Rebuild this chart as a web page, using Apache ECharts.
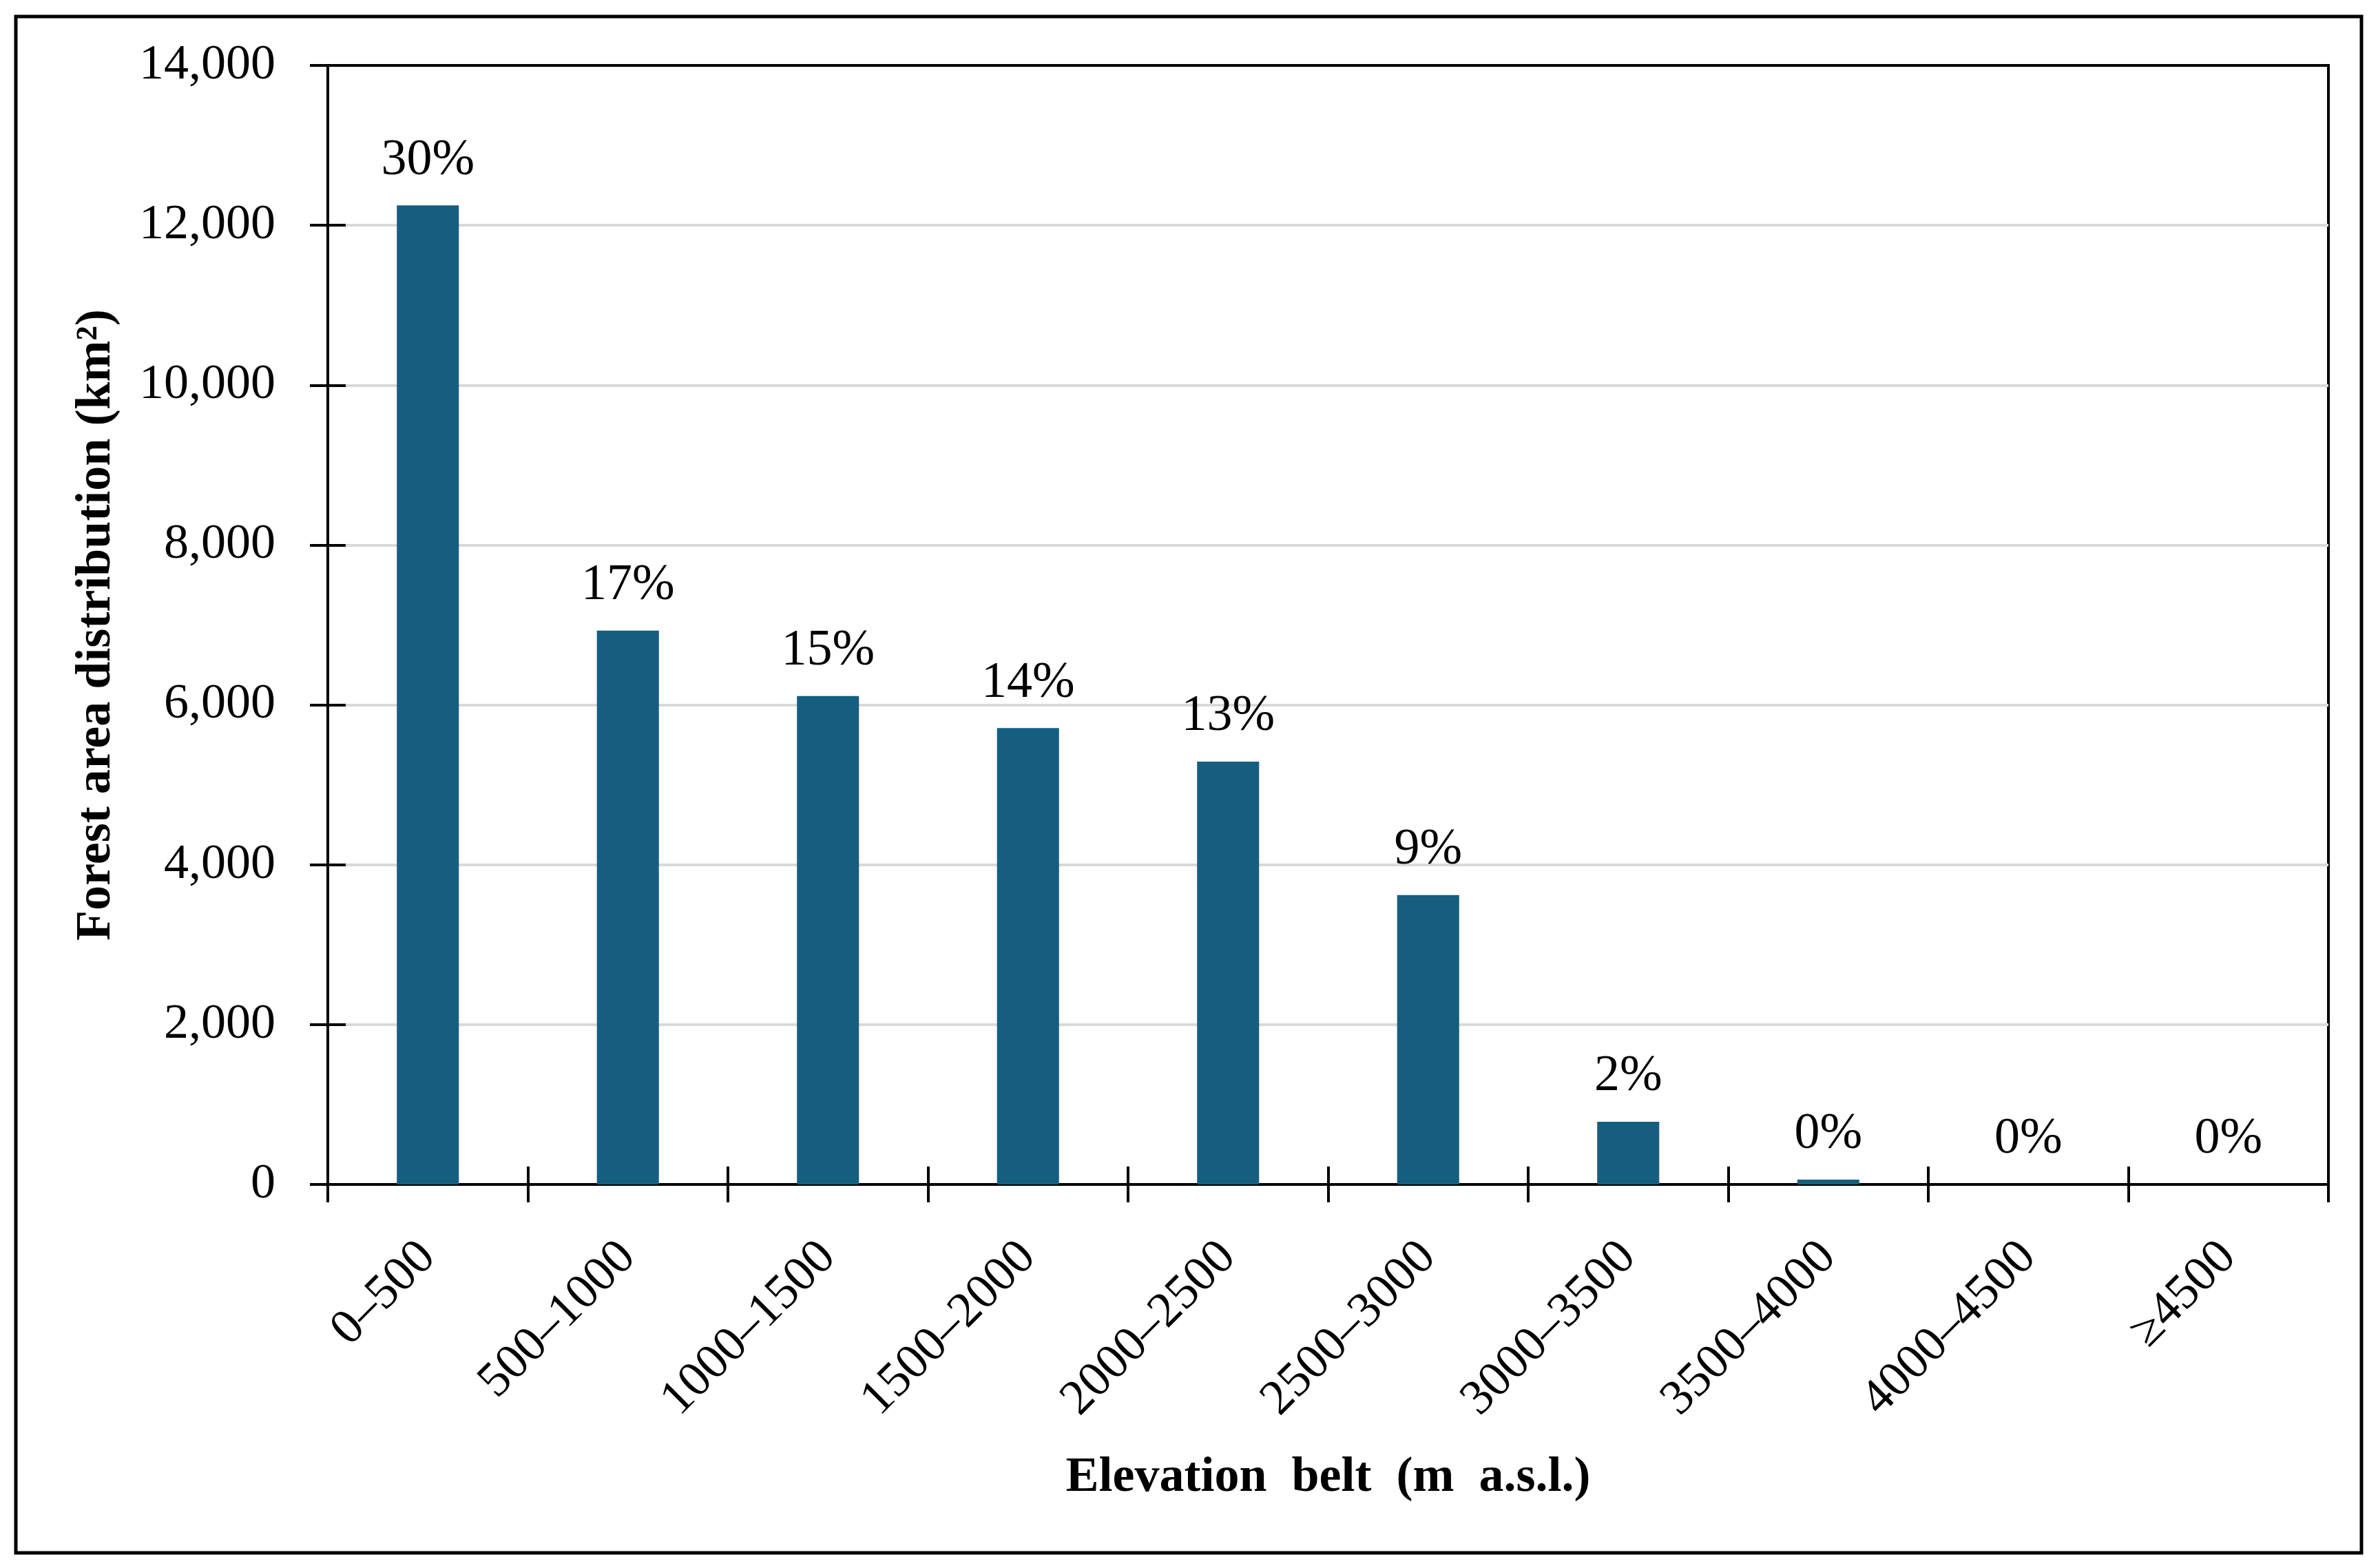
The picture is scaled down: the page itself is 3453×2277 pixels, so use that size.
<!DOCTYPE html>
<html>
<head>
<meta charset="utf-8">
<script src="https://cdn.jsdelivr.net/npm/echarts@6/dist/echarts.min.js"></script>
<style>
  html, body { margin: 0; padding: 0; background: #fff; }
  #chart { width: 3453px; height: 2277px; }
</style>
</head>
<body>
<div id="chart"></div>
<script>
// elevation belts and forest area (km2), share labels over bars
const belts = ['0–500', '500–1000', '1000–1500', '1500–2000', '2000–2500',
  '2500–3000', '3000–3500', '3500–4000', '4000–4500', '≥4500'];
const areaKm2 = [12250, 6930, 6110, 5710, 5290, 3620, 785, 60, 0, 0];
const shares = ['30%', '17%', '15%', '14%', '13%', '9%', '2%', '0%', '0%', '0%'];
const yTicks = [0, 2000, 4000, 6000, 8000, 10000, 12000, 14000];

const FONT = "'Palatino Linotype', 'Book Antiqua', 'Liberation Serif', serif";

const chart = echarts.init(document.getElementById('chart'), null, { renderer: 'canvas' });

// gray gridlines, the top one (14,000) is the black frame
const gridColors = yTicks.map((v, i) => (i === yTicks.length - 1 ? '#000' : '#d9d9d9'));

const option = {
  backgroundColor: '#fff',
  animation: false,
  textStyle: { fontFamily: FONT, color: '#000' },
  graphic: [{
    type: 'rect',
    shape: { x: 23, y: 24, width: 3406, height: 2231 },
    style: { fill: null, stroke: '#000', lineWidth: 5 },
    silent: true
  }],
  grid: {
    left: 476, right: 72, top: 95, bottom: 557,
    show: true, borderColor: '#000', borderWidth: 4
  },
  xAxis: [{
    type: 'category',
    data: belts,
    name: 'Elevation  belt  (m  a.s.l.)',
    nameLocation: 'middle',
    nameGap: 390,
    nameTextStyle: { fontFamily: FONT, fontSize: 72, fontWeight: 'bold', color: '#000' },
    axisLine: { show: true, lineStyle: { color: '#000', width: 4 } },
    axisTick: { show: true, length: 26, lineStyle: { color: '#000', width: 4 } },
    axisLabel: {
      rotate: 45, margin: 95, fontSize: 72, fontFamily: FONT, color: '#000',
      interval: 0
    },
    splitLine: { show: false }
  }, {
    // inner half of the crossing ticks
    type: 'category',
    data: belts,
    position: 'bottom',
    axisLine: { show: false },
    axisTick: { show: true, inside: true, length: 26, lineStyle: { color: '#000', width: 4 } },
    axisLabel: { show: false },
    splitLine: { show: false }
  }],
  yAxis: [{
    type: 'value',
    min: yTicks[0],
    max: yTicks[yTicks.length - 1],
    interval: 2000,
    name: 'Forest area distribution (km²)',
    nameLocation: 'middle',
    nameGap: 300,
    nameTextStyle: { fontFamily: FONT, fontSize: 72, fontWeight: 'bold', color: '#000' },
    axisLine: { show: true, lineStyle: { color: '#000', width: 4 } },
    axisTick: { show: true, length: 26, lineStyle: { color: '#000', width: 4 } },
    axisLabel: {
      margin: 76, fontSize: 72, fontFamily: FONT, color: '#000',
      formatter: v => v.toLocaleString('en-US')
    },
    splitLine: { show: true, lineStyle: { color: gridColors, width: 4 } }
  }, {
    type: 'value',
    min: yTicks[0],
    max: yTicks[yTicks.length - 1],
    interval: 2000,
    position: 'left',
    axisLine: { show: false },
    axisTick: { show: true, inside: true, length: 26, lineStyle: { color: '#000', width: 4 } },
    axisLabel: { show: false },
    splitLine: { show: false }
  }],
  series: [{
    type: 'bar',
    xAxisIndex: 0,
    yAxisIndex: 0,
    data: areaKm2,
    barWidth: '31%',
    itemStyle: { color: '#165e80' },
    label: {
      show: true,
      position: 'top',
      distance: 28,
      fontSize: 74,
      fontFamily: FONT,
      color: '#000',
      formatter: p => shares[p.dataIndex]
    }
  }]
};

chart.setOption(option);
</script>
</body>
</html>
